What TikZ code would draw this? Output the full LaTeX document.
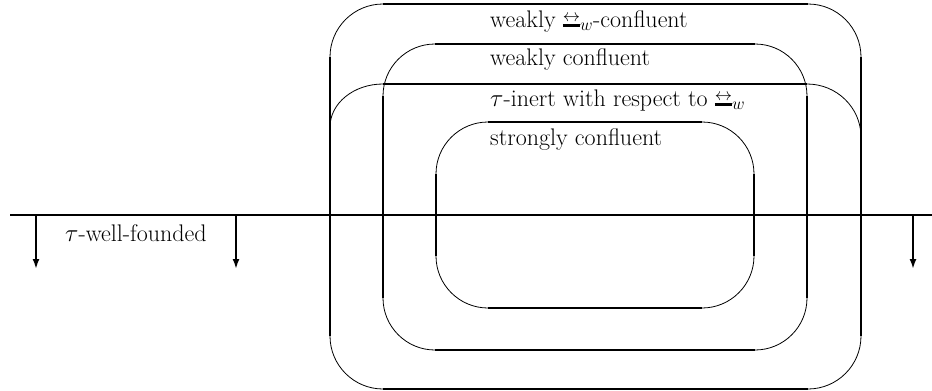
\documentclass[tikz,border=0pt]{standalone}
\usetikzlibrary{arrows.meta}
\newsavebox\arrbox
\newcommand\wbis{\mathrel{\sbox\arrbox{$\scriptstyle\leftrightarrow$}\rlap{\raisebox{0.5ex}{\usebox\arrbox}}\rule{\wd\arrbox}{0.28ex}}}
\tikzset{
  thickline/.style={line width=2.8pt},
  arcline/.style={line width=0.8pt},
  lbl/.style={anchor=base west, inner sep=0pt, font=\fontsize{24}{28}\selectfont},
  downarrow/.style={line width=2.4pt, -{Latex[length=10pt,width=7pt]}}
}
\newcommand\rbox[5]{%
  \draw[thickline] (#1+#5,#2) -- (#3-#5,#2) (#3,#2+#5) -- (#3,#4-#5)
    (#3-#5,#4) -- (#1+#5,#4) (#1,#4-#5) -- (#1,#2+#5);
  \draw[arcline,rounded corners=#5pt] (#3-#5,#2) -- (#3,#2) -- (#3,#2+#5);
  \draw[arcline,rounded corners=#5pt] (#3,#4-#5) -- (#3,#4) -- (#3-#5,#4);
  \draw[arcline,rounded corners=#5pt] (#1+#5,#4) -- (#1,#4) -- (#1,#4-#5);
  \draw[arcline,rounded corners=#5pt] (#1,#2+#5) -- (#1,#2) -- (#1+#5,#2);
}
\begin{document}
\begin{tikzpicture}[x=1pt,y=-1pt]
\useasboundingbox (0,0) rectangle (932,391);
% boxes
\rbox{330}{4}{861}{389}{53}
\rbox{383}{44}{807}{350}{52}
\rbox{436}{122}{754}{308}{52}
% tau-inert region top
\draw[thickline] (383,84) -- (807,84);
\draw[arcline] (383,84) .. controls (353.7,84) and (330,103.3) .. (330,127);
\draw[arcline] (807,84) .. controls (836.8,84) and (861,107.7) .. (861,137);
% axis
\coordinate (axL) at (10,215);
\coordinate (axR) at (932,215);
\draw[line width=2.8pt] (axL) -- (axR);
\coordinate (a1s) at (36,215);  \coordinate (a1e) at (36,269);
\coordinate (a2s) at (236,215); \coordinate (a2e) at (236,269);
\coordinate (a3s) at (913,215); \coordinate (a3e) at (913,269);
\draw[downarrow] (a1s) -- (a1e);
\draw[downarrow] (a2s) -- (a2e);
\draw[downarrow] (a3s) -- (a3e);
% labels
\node[lbl] (t1) at (490,27) {weakly $\wbis_w$-confluent};
\node[lbl] (t2) at (490,65) {weakly confluent};
\node[lbl] (t3) at (490,106) {$\tau$-inert with respect to $\wbis_w$};
\node[lbl] (t4) at (490,145) {strongly confluent};
\node[lbl] (t5) at (65,241) {$\tau$-well-founded};
\end{tikzpicture}
\end{document}
